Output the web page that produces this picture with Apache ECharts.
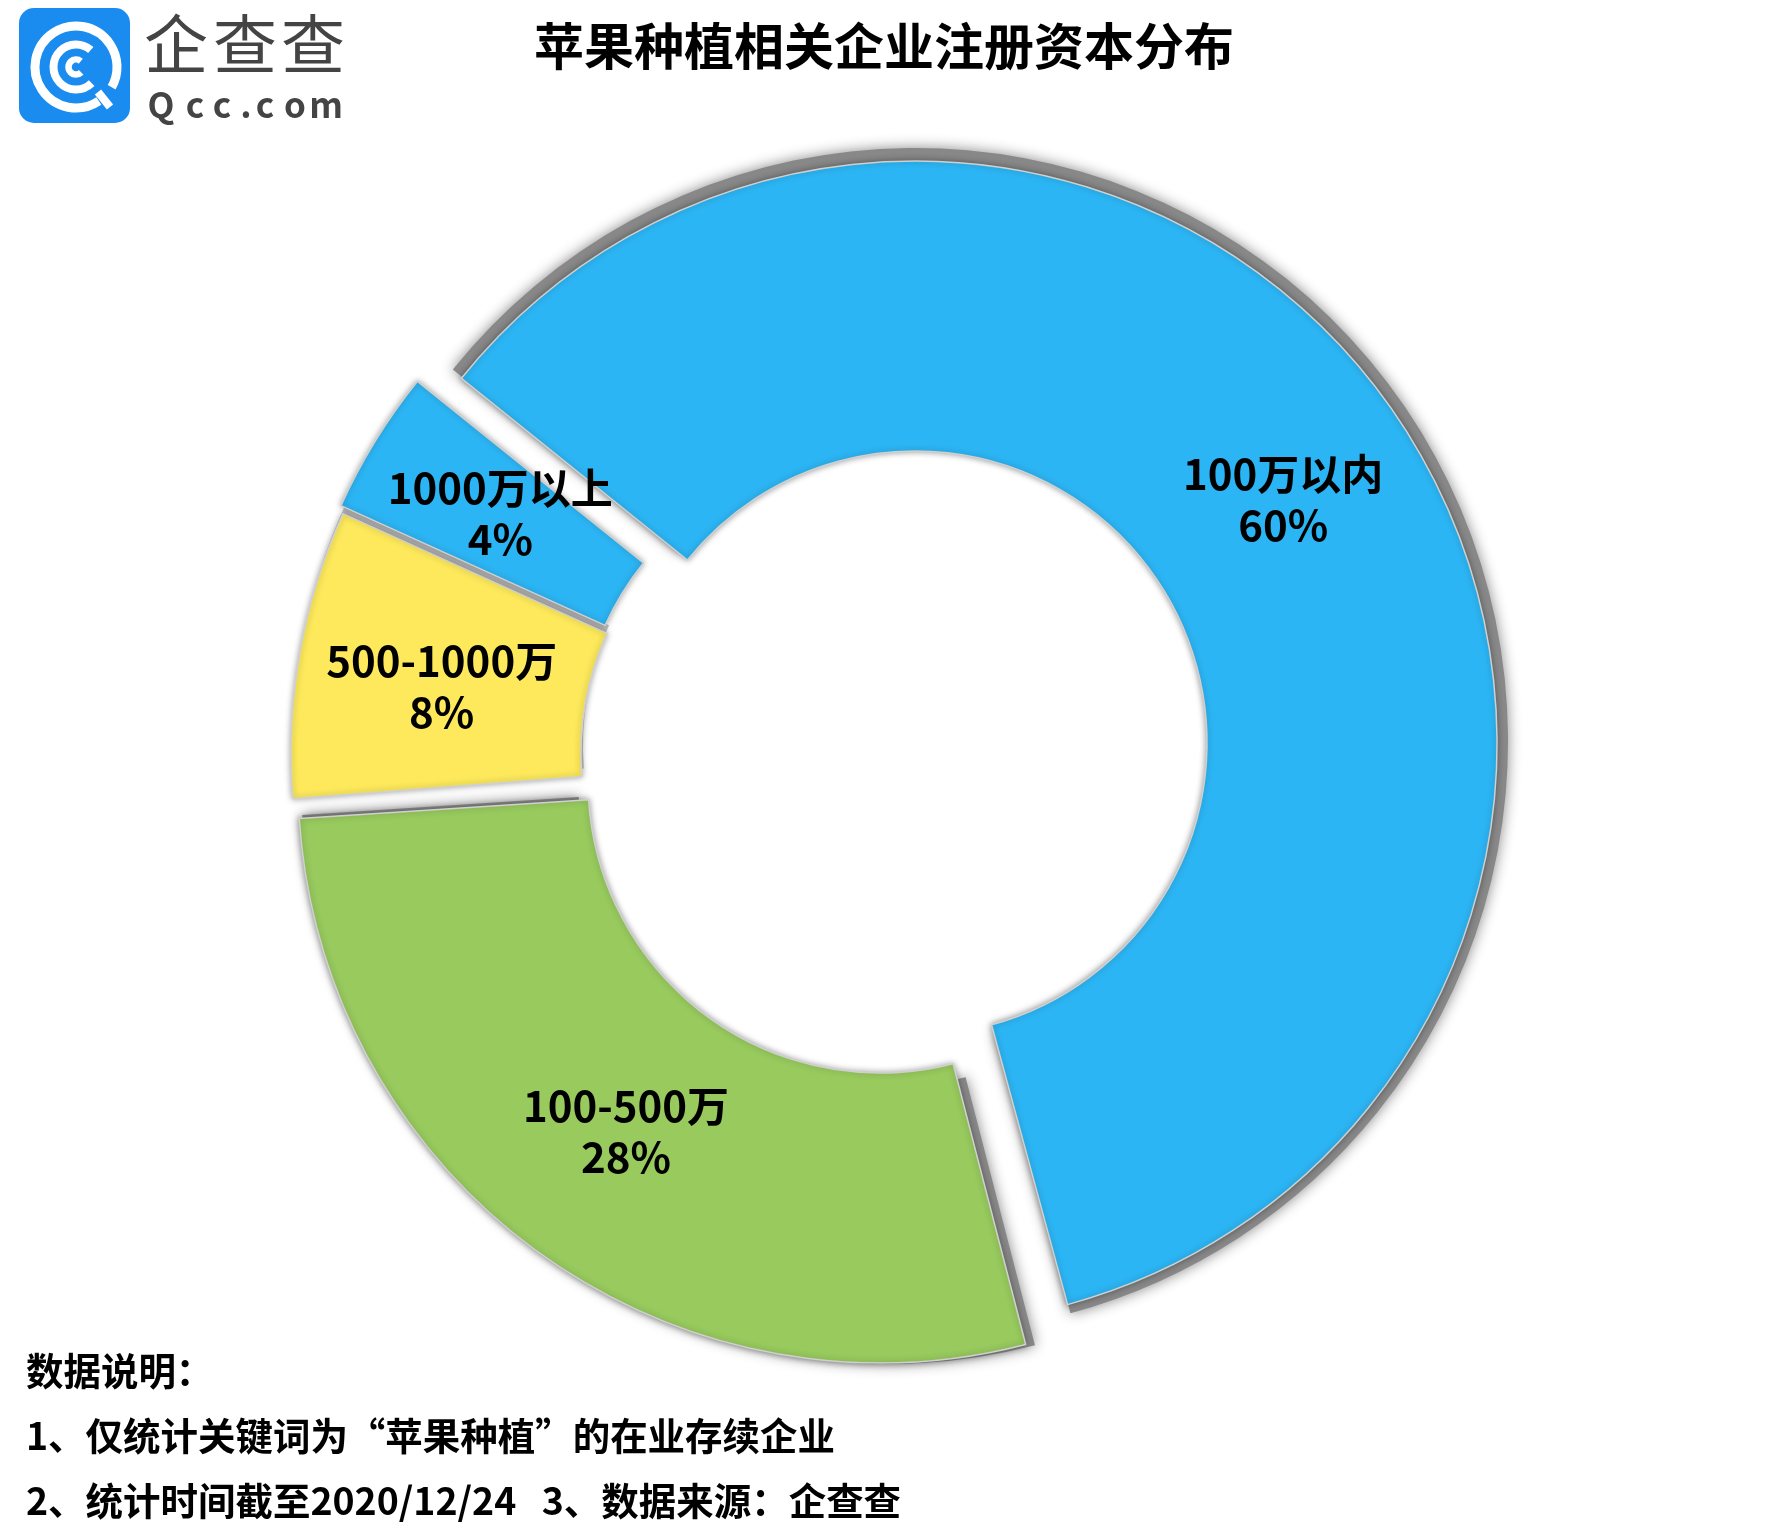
<!DOCTYPE html>
<html>
<head>
<meta charset="utf-8">
<style>
  html, body { margin: 0; padding: 0; background: #fff; }
  #chart { width: 1767px; height: 1534px; }
</style>
<script src="https://cdn.jsdelivr.net/npm/echarts@6/dist/echarts.min.js"></script>
</head>
<body>
<div id="chart"></div>
<script>
const categories = ['100万以内', '100-500万', '500-1000万', '1000万以上'];
const shares = [60, 28, 8, 4];
const sliceColors = ['#2cb5f4', '#98ca5e', '#fde95b', '#2cb5f4'];
const footnotes = [
  '数据说明：',
  '1、仅统计关键词为“苹果种植”的在业存续企业',
  '2、统计时间截至2020/12/24   3、数据来源：企查查'
];

const FONT = '"Noto Sans CJK SC", "Noto Sans", sans-serif';
const chart = echarts.init(document.getElementById('chart'));

// every slice is pulled away by its own distance, so each one gets a pie of its own
const slices = [
  { index: 0, center: [915, 743], startAngle: 141.2, dx: 0, dy: -3 },
  { index: 1, center: [880, 781], startAngle: 140.5, dx: 4, dy: -6 },
  { index: 2, center: [873, 754], startAngle: 141.2, dx: 2, dy: 9 },
  { index: 3, center: [871, 746], startAngle: 141.2, dx: 4, dy: -2 }
];
// the grey shapes behind the slices: hard shadow on the big ones, the band under 1000万以上
const shadows = [
  { index: 0, center: [915, 741], startAngle: 141.2, inner: 300, outer: 593, color: '#888', blur: 14 },
  { index: 1, center: [888, 777], startAngle: 140.5, inner: 310, outer: 587, color: '#888', blur: 14 },
  { index: 2, center: [875, 746], startAngle: 141.2, inner: 292, outer: 582, color: '#c4c4c4', blur: 0 }
];

function pieData(visible, itemStyle, label) {
  return categories.map((name, i) => ({
    name: name,
    value: shares[i],
    itemStyle: i === visible ? itemStyle(i) : { color: 'transparent', borderWidth: 0 },
    label: i === visible && label ? label : { show: false }
  }));
}

const shadowSeries = shadows.map(s => ({
  type: 'pie',
  silent: true,
  z: 1,
  center: s.center,
  radius: [s.inner, s.outer],
  startAngle: s.startAngle,
  avoidLabelOverlap: false,
  labelLine: { show: false },
  data: pieData(s.index, () => ({ color: s.color, shadowColor: s.color, shadowBlur: s.blur }))
}));

const sliceSeries = slices.map(s => ({
  type: 'pie',
  silent: true,
  z: 2,
  center: s.center,
  radius: [292, 582],
  startAngle: s.startAngle,
  avoidLabelOverlap: false,
  labelLine: { show: false },
  labelLayout: { dx: s.dx, dy: s.dy },
  data: pieData(
    s.index,
    i => ({ color: sliceColors[i], borderColor: '#d0d0d0', borderWidth: 1.5, shadowColor: 'rgba(0,0,0,0.35)', shadowBlur: 6 }),
    { show: true, position: 'inside', formatter: '{b}\n{d}%', color: '#000', fontFamily: FONT, fontWeight: 600, fontSize: 42, lineHeight: 51 }
  )
}));

const ring = (r, width, start, end) => ({
  type: 'arc',
  shape: { cx: 76, cy: 67, r: r, startAngle: start, endAngle: end, clockwise: true },
  style: { stroke: '#fff', lineWidth: width, fill: null },
  z: 11
});

const logoText = (text, x, y, font) => ({
  type: 'text',
  x: x,
  y: y,
  z: 10,
  style: { text: text, fill: '#444', font: font, textAlign: 'center', textVerticalAlign: 'middle' }
});

const brandChars = [['企', 176], ['查', 245], ['查', 313]];
const domainChars = [['Q', 161], ['c', 195], ['c', 222], ['.', 246], ['c', 265], ['o', 295], ['m', 326]];

const logo = [
  { type: 'rect', shape: { x: 19, y: 8, width: 111, height: 115, r: 15 }, style: { fill: '#1a8cf0' }, z: 10 },
  ring(41, 9, 0.98, 6.8),
  ring(22.5, 8, 0.8, 5.43),
  ring(7.5, 6.5, 0.8, 5.4),
  { type: 'line', shape: { x1: 98, y1: 92, x2: 110, y2: 107 }, style: { stroke: '#fff', lineWidth: 8 }, z: 11 }
]
  .concat(brandChars.map(c => logoText(c[0], c[1], 44, '400 64px ' + FONT)))
  .concat(domainChars.map(c => logoText(c[0], c[1], 105, '600 35px ' + FONT)));

const notes = footnotes.map((text, i) => ({
  type: 'text',
  x: 26,
  y: 1352 + i * 65,
  scaleX: 0.986,
  z: 10,
  style: {
    text: text,
    fill: '#000',
    font: '700 38px ' + FONT,
    shadowColor: 'rgba(0,0,0,0.45)',
    shadowBlur: 2,
    shadowOffsetY: 1
  }
}));

chart.setOption({
  animation: false,
  backgroundColor: '#fff',
  title: {
    text: '苹果种植相关企业注册资本分布',
    left: 879,
    top: 16,
    textAlign: 'center',
    textStyle: { color: '#000', fontFamily: FONT, fontWeight: 700, fontSize: 50 }
  },
  series: shadowSeries.concat(sliceSeries),
  graphic: logo.concat(notes)
});
</script>
</body>
</html>
